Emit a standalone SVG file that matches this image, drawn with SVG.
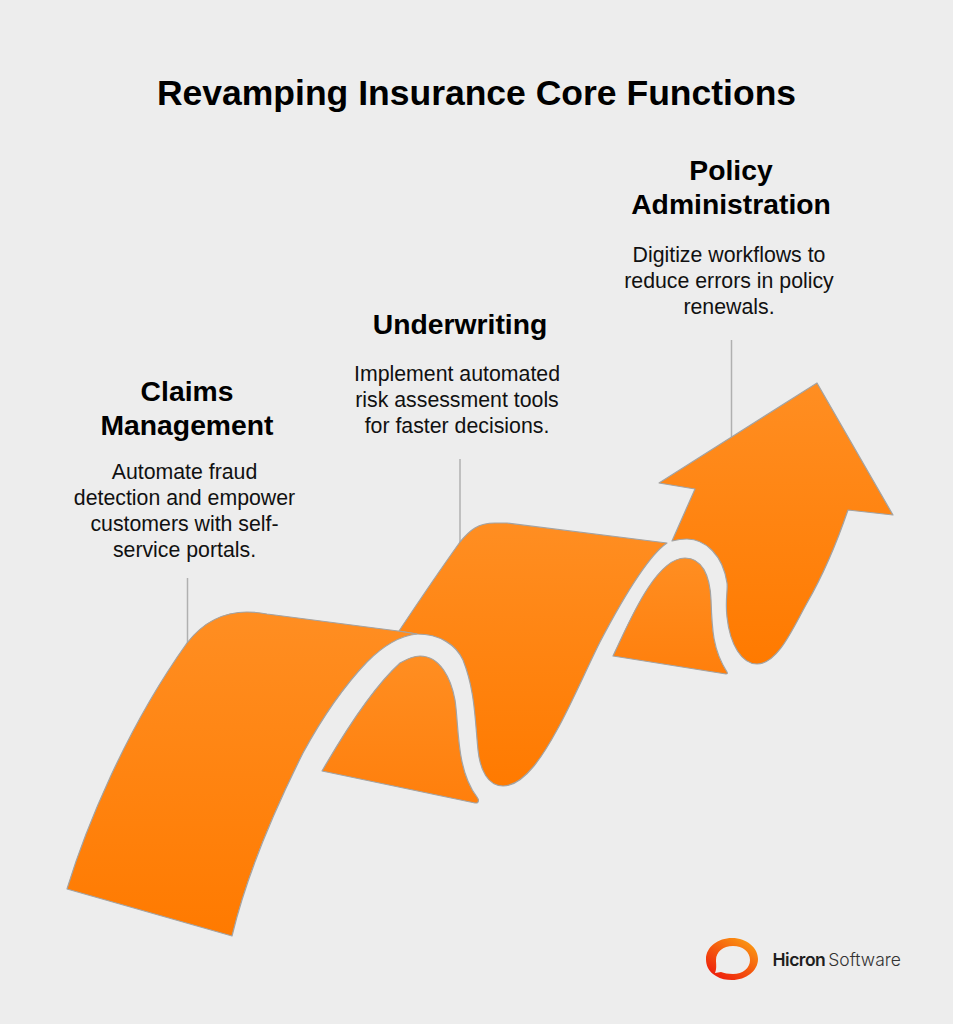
<svg xmlns="http://www.w3.org/2000/svg" width="953" height="1024" viewBox="0 0 953 1024">
<defs>
<linearGradient id="g1" gradientUnits="userSpaceOnUse" x1="0" y1="612" x2="0" y2="937"><stop offset="0" stop-color="#ff8e22"/><stop offset="1" stop-color="#ff7a00"/></linearGradient>
<linearGradient id="g2" gradientUnits="userSpaceOnUse" x1="0" y1="522" x2="0" y2="787"><stop offset="0" stop-color="#ff8e22"/><stop offset="1" stop-color="#ff7a00"/></linearGradient>
<linearGradient id="g3" gradientUnits="userSpaceOnUse" x1="0" y1="382" x2="0" y2="665"><stop offset="0" stop-color="#ff8e22"/><stop offset="1" stop-color="#ff7a00"/></linearGradient>
<linearGradient id="g4" gradientUnits="userSpaceOnUse" x1="0" y1="655" x2="0" y2="803"><stop offset="0" stop-color="#ff8e22"/><stop offset="1" stop-color="#ff7f0c"/></linearGradient>
<linearGradient id="g5" gradientUnits="userSpaceOnUse" x1="0" y1="557" x2="0" y2="675"><stop offset="0" stop-color="#ff8e22"/><stop offset="1" stop-color="#ff7f0c"/></linearGradient>
<linearGradient id="logo" x1="0.8" y1="0" x2="0.1" y2="0.9"><stop offset="0" stop-color="#fb9a12"/><stop offset="1" stop-color="#ee1c0c"/></linearGradient>
<style>
.s{stroke:#a3a3a3;stroke-width:1.2;stroke-linejoin:round}
.l{stroke:#b0b0b0;stroke-width:1.5;fill:none}
.h{font-family:"Liberation Sans",Arial,sans-serif;font-weight:700;font-size:28.3px;fill:#000;text-anchor:middle}
.b{font-family:"Liberation Sans",Arial,sans-serif;font-size:21.3px;fill:#111;text-anchor:middle}
</style>
</defs>
<rect width="953" height="1024" fill="#ededed"/>
<text x="476.500" y="105" font-family="'Liberation Sans',Arial,sans-serif" font-weight="700" font-size="35.5px" text-anchor="middle" fill="#000">Revamping Insurance Core Functions</text>
<g id="connectors">
<path class="l" d="M187.500 578V643"/>
<path class="l" d="M460 459V543"/>
<path class="l" d="M731.500 340V437"/>
</g>
<g id="node-underwriting">
<path class="s" fill="url(#g2)" d="M399 631C415 607 440 570 460 542C470 530 478 523 495 523C500 523 504 523 507 523L667 543C648 556 622 600 600 642C587 668 570 707 557 730C545 752 525 786 503 786C488 786 480 770 478 750C475 720 475 690 463 660C456 645 440 634 417 634Z"/>
<text class="h" x="460" y="333.500">Underwriting</text>
<text class="b"><tspan x="457" y="380.500">Implement automated</tspan><tspan x="457" y="406.500">risk assessment tools</tspan><tspan x="457" y="432.500">for faster decisions.</tspan></text>
</g>
<g id="node-claims">
<path class="s" fill="url(#g1)" d="M67 889C85 830 125 730 187 643C205 620 225 612 247 612C255 612 262 613 267 614L398 631L417 634C398 636 382 647 367 662C345 685 322 718 303 753C262 835 243 890 232 936Z"/>
<text class="h"><tspan x="187" y="400.500">Claims</tspan><tspan x="187" y="434.500">Management</tspan></text>
<text class="b"><tspan x="184.500" y="478.500">Automate fraud</tspan><tspan x="184.500" y="504.500">detection and empower</tspan><tspan x="184.500" y="530.500">customers with self-</tspan><tspan x="184.500" y="556.500">service portals.</tspan></text>
</g>
<g id="node-claims-fold">
<path class="s" fill="url(#g4)" d="M322 771C340 740 370 690 400 663C407 659 413 656 420 656C440 656 451 678 455 700C459 725 456 770 477 797Q480 801 477 803L475 803Z"/>
</g>
<g id="node-policy">
<path class="s" fill="url(#g3)" d="M817 383L893 515L848 510C835 548 822 577 807 603C793 628 778 664 757 664C742 664 730 645 727 617C725 600 728 590 727 583C723 555 705 539 687 539C680 539 676 540 672 541L695 489L659 483Z"/>
<text class="h"><tspan x="731" y="179.500">Policy</tspan><tspan x="731" y="213.500">Administration</tspan></text>
<text class="b"><tspan x="729" y="261.500">Digitize workflows to</tspan><tspan x="729" y="287.500">reduce errors in policy</tspan><tspan x="729" y="313.500">renewals.</tspan></text>
</g>
<g id="node-policy-fold">
<path class="s" fill="url(#g5)" d="M613 656C628 625 655 558 685 558C702 558 710 575 711 600C712 630 713 650 727 672Q728 674 726 674Z"/>
</g>
<g id="logo-mark">
<path fill="url(#logo)" fill-rule="evenodd" d="M732 938C747 938 758 948 758 959C758 971 746 980 732 980C726 980 721 979 716 976L713 974C708 970 706 965 706 959C706 947 718 938 732 938ZM733 946C723 946 716 952 716 960C716 964 717 968 715 973C717 973 719 972 721 972C724 973 728 974 733 974C743 974 750 968 750 960C750 952 743 946 733 946Z"/>
<text x="772.500" y="966" font-family="Inter,'Liberation Sans',sans-serif" font-size="17.500px" fill="#1e1e1e"><tspan font-weight="600" letter-spacing="-0.5">Hicron</tspan><tspan dx="3" font-weight="300" fill="#333">Software</tspan></text>
</g>
</svg>
